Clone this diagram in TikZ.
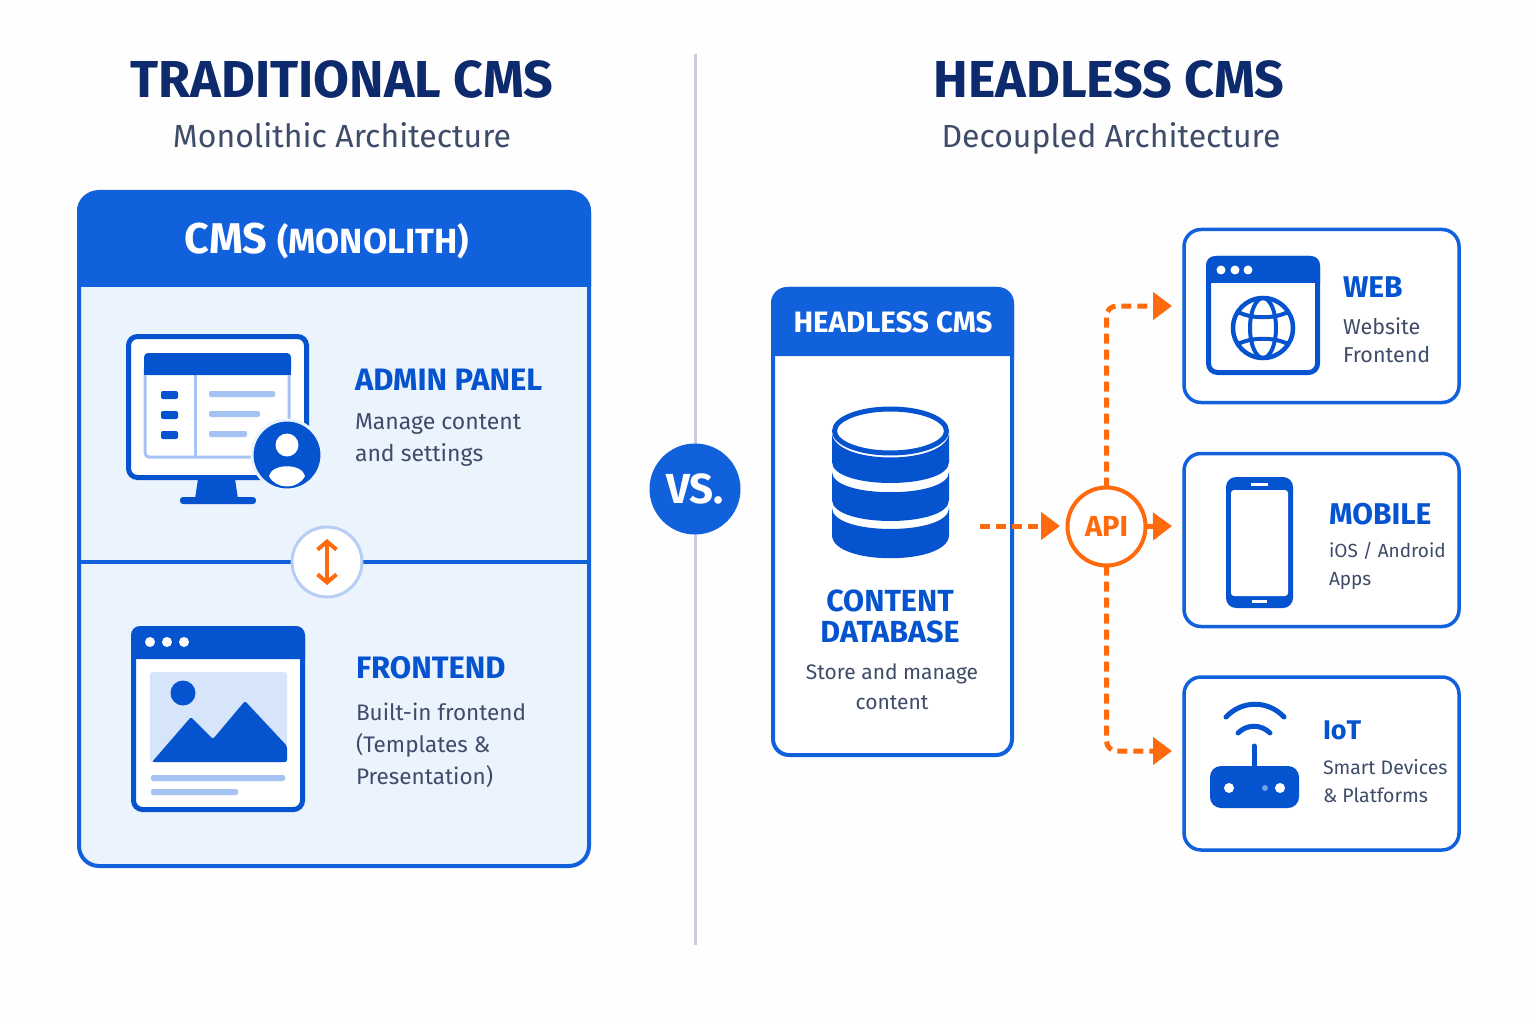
\documentclass[tikz,border=0pt]{standalone}
\usepackage{fontspec}
\setmainfont{Fira Sans}
\usetikzlibrary{arrows.meta}
\definecolor{cardblue}{HTML}{1160DC}
\definecolor{iconblue}{HTML}{0553CF}
\definecolor{navy}{HTML}{0D2A6C}
\definecolor{slate}{HTML}{3E4C69}
\definecolor{apiorange}{HTML}{FF6A0D}
\definecolor{pale}{HTML}{EBF3FD}
\definecolor{rule}{HTML}{C9CEDC}
\definecolor{softline}{HTML}{A4C2F2}
\definecolor{sky}{HTML}{D6E5FA}
\newcommand{\fsz}[2]{\fontsize{#1}{#2}\selectfont}

\begin{document}
\begin{tikzpicture}[x=1pt,y=-1pt]
   \tikzstyle{every node}=[inner sep=0pt, outer sep=0pt]
   \tikzstyle{title}=[anchor=base, text=navy, font=\fsz{52}{56}\bfseries]
   \tikzstyle{subtitle}=[anchor=base, text=slate, font=\fsz{32}{36}]
   \tikzstyle{panel}=[draw=cardblue, line width=4pt, rounded corners=20pt]
   \tikzstyle{device}=[panel, rounded corners=17pt, line width=3.5pt, fill=white, minimum width=275pt, minimum height=173pt]
   \tikzstyle{itemhead}=[anchor=base west, text=iconblue, font=\fsz{30}{32}\bfseries]
   \tikzstyle{itemtext}=[anchor=west, align=left, text=slate]
   \tikzstyle{flow}=[draw=apiorange, line width=5pt, dash pattern=on 10pt off 6pt, -{Triangle[length=19pt,width=27pt]}]

   \useasboundingbox (0,0) rectangle (1536,1024);
   \fill[white!60!pale!10!white] (0,0) rectangle (1536,1024);

   \node[title] (lefttitle) at (342,98) {TRADITIONAL CMS};
   \node[subtitle] (leftsub) at (342,147.5) {Monolithic Architecture};
   \node[title] (righttitle) at (1109,98) {HEADLESS CMS};
   \node[subtitle] (rightsub) at (1111,147.5) {Decoupled Architecture};

   \coordinate (ruletop) at (695,54);
   \coordinate (rulebot) at (695,945);
   \draw[rule, line width=3pt] (ruletop) -- (rulebot);
   \node[circle, fill=cardblue, minimum size=91pt, text=white, font=\fsz{42}{44}\bfseries] (vs) at (695,489) {VS.};

   \node[panel, fill=pale, minimum width=510pt, minimum height=674pt] (mono) at (334,529) {};
   \fill[cardblue] (77,287) [rounded corners=20pt] -- (77,191) -- (591,191) [sharp corners] -- (591,287) -- cycle;
   \node[anchor=base, text=white, font=\bfseries] (monohead) at (327,254) {\fsz{43}{44}CMS \fsz{35}{44}(MONOLITH)};
   \coordinate (splitl) at (mono.west |- 0,562);
   \coordinate (splitr) at (mono.east |- 0,562);
   \draw[cardblue, line width=4pt] (splitl) -- (splitr);

   \draw[iconblue, line width=5pt, fill=white, rounded corners=9pt] (128.5,336.5) rectangle (306.5,477.5);
   \draw[softline, line width=3pt, rounded corners=4pt] (145,365) rectangle (289,457);
   \draw[softline, line width=3pt] (195,375) -- (195,457);
   \fill[iconblue, rounded corners=4pt] (144,353) rectangle (291,375);
   \fill[iconblue] (144,366) rectangle (291,375);
   \fill[iconblue, rounded corners=2pt] (161,391) rectangle (178,399);
   \fill[iconblue, rounded corners=2pt] (161,411) rectangle (178,419);
   \fill[iconblue, rounded corners=2pt] (161,431) rectangle (178,439);
   \fill[softline, rounded corners=2pt] (209,391) rectangle (275,397);
   \fill[softline, rounded corners=2pt] (209,411) rectangle (260,417);
   \fill[softline, rounded corners=2pt] (209,431) rectangle (247,437);
   \fill[iconblue] (198,479) -- (235,479) -- (238,499) -- (195,499) -- cycle;
   \fill[iconblue, rounded corners=3pt] (180,497) rectangle (256,504);
   \draw[pale, line width=3pt, fill=iconblue] (287,455) circle (35);
   \fill[white] (287,445) circle (11.5);
   \fill[white] (269,476) .. controls (272,463) and (302,463) .. (305,476) .. controls (298,490) and (276,490) .. (269,476) -- cycle;

   \node[itemhead, font=\fsz{31}{32}\bfseries] (adminhead) at (355,390) {ADMIN PANEL};
   \node[itemtext, font=\fsz{23}{31.5}] (admintext) at (355,440) {Manage content\\and settings};

   \node[circle, draw=softline!80!white, line width=3pt, fill=white, minimum size=70pt] (swap) at (327,562) {};
   \coordinate (swaptop) at (327,539);
   \coordinate (swapbot) at (327,585);
   \draw[apiorange, line width=4pt, {Straight Barb[length=8pt,width=19pt]}-{Straight Barb[length=8pt,width=19pt]}] (swaptop) -- (swapbot);

   \draw[iconblue, line width=5pt, fill=white, rounded corners=9pt] (133.5,628.5) rectangle (302.5,809.5);
   \fill[iconblue] (131,659) [rounded corners=9pt] -- (131,626) -- (305,626) [sharp corners] -- (305,659) -- cycle;
   \fill[white] (150,642) circle (5);
   \fill[white] (167,642) circle (5);
   \fill[white] (184,642) circle (5);
   \fill[sky, rounded corners=3pt] (150,672) rectangle (287,762);
   \fill[iconblue] (183,693) circle (12.5);
   \fill[iconblue, rounded corners=2pt] (152,762) -- (191,717) -- (213,739) -- (245,701) -- (287,746) -- (287,762) -- cycle;
   \fill[softline, rounded corners=2pt] (151,775) rectangle (285,781);
   \fill[softline, rounded corners=2pt] (151,789) rectangle (238,795);

   \node[itemhead, font=\fsz{31}{32}\bfseries] (fronthead) at (356,678) {FRONTEND};
   \node[itemtext, font=\fsz{22.5}{32}] (fronttext) at (356,745) {Built-in frontend\\(Templates \&\\Presentation)};

   \node[panel, rounded corners=16pt, fill=white, minimum width=239pt, minimum height=466pt] (headless) at (892.5,522) {};
   \fill[cardblue] (771,356) [rounded corners=16pt] -- (771,287) -- (1014,287) [sharp corners] -- (1014,356) -- cycle;
   \node[anchor=base, text=white, font=\fsz{29.5}{32}\bfseries] (headlesshead) at (893,332) {HEADLESS CMS};

   \fill[iconblue] (832,432) .. controls (832,466) and (949,466) .. (949,432) -- (949,462) .. controls (949,490) and (832,490) .. (832,462) -- cycle;
   \fill[iconblue] (832,472) .. controls (832,499) and (949,499) .. (949,472) -- (949,500) .. controls (949,528) and (832,528) .. (832,500) -- cycle;
   \fill[iconblue] (832,508) .. controls (832,536) and (949,536) .. (949,508) -- (949,535) .. controls (949,566) and (832,566) .. (832,535) -- cycle;
   \draw[iconblue, line width=5pt, fill=white] (890.5,431) ellipse [x radius=56, y radius=22];

   \node[anchor=center, align=center, text=iconblue, font=\fsz{30.5}{31.5}\bfseries] (dbhead) at (890,616.5) {CONTENT\\DATABASE};
   \node[anchor=center, align=center, text=slate, font=\fsz{21}{30}] (dbtext) at (892,687) {Store and manage\\content};

   \node[device] (web) at (1321.5,316) {};
   \node[device] (mobile) at (1321.5,540) {};
   \node[device] (iot) at (1321.5,763.5) {};

   \draw[iconblue, line width=5pt, fill=white, rounded corners=9pt] (1208.5,258.5) rectangle (1317.5,372.5);
   \fill[iconblue] (1206,283) [rounded corners=9pt] -- (1206,256) -- (1320,256) [sharp corners] -- (1320,283) -- cycle;
   \fill[white] (1221,270) circle (4.5);
   \fill[white] (1235,270) circle (4.5);
   \fill[white] (1248,270) circle (4.5);
   \draw[iconblue, line width=4.5pt] (1263,328) circle (30);
   \draw[iconblue, line width=4pt] (1263,328) ellipse [x radius=13, y radius=30];
   \draw[iconblue, line width=4pt] (1238,312) .. controls (1252,319) and (1274,319) .. (1288,312);
   \draw[iconblue, line width=4pt] (1238,344) .. controls (1252,337) and (1274,337) .. (1288,344);

   \node[itemhead] (webhead) at (1343,298) {WEB};
   \node[itemtext, font=\fsz{21.5}{28.5}] (webtext) at (1343,340) {Website\\Frontend};

   \fill[iconblue, rounded corners=10pt] (1226,477) rectangle (1293,608);
   \fill[white, rounded corners=3pt] (1231,490) rectangle (1288,596);
   \fill[white] (1250.5,482.5) rectangle (1267.5,485.5);
   \fill[white] (1252,600) rectangle (1267,603);

   \node[itemhead] (mobilehead) at (1329,524) {MOBILE};
   \node[itemtext, font=\fsz{19}{28}] (mobiletext) at (1329,566) {iOS / Android\\Apps};

   \draw[iconblue, line width=5pt, line cap=round] (1226,717) .. controls (1242,700) and (1268,700) .. (1284,717);
   \draw[iconblue, line width=5pt, line cap=round] (1238,733) .. controls (1247,724) and (1261,724) .. (1270,733);
   \draw[iconblue, line width=5pt, line cap=round] (1254,746) -- (1254,768);
   \fill[iconblue, rounded corners=11pt] (1210,766) rectangle (1299,808);
   \fill[white] (1229,788) circle (5);
   \fill[white] (1280,788) circle (5);
   \fill[softline!70!iconblue] (1265,788) circle (3);

   \node[itemhead, font=\fsz{27}{32}\bfseries] (iothead) at (1323,739) {IoT};
   \node[itemtext, font=\fsz{19.5}{28}] (iottext) at (1323,781) {Smart Devices\\\& Platforms};

   \node[circle, draw=apiorange, line width=4pt, fill=white, minimum size=78pt, text=apiorange, font=\fsz{29}{32}\bfseries] (api) at (1106.5,526.5) {API};
   \coordinate (dbout) at (980,526);
   \coordinate (apiin) at (1060,526);
   \coordinate (webin) at (1172,306);
   \coordinate (mobilein) at (1172,526);
   \coordinate (iotin) at (1172,751);

   \draw[flow] (dbout) -- (apiin);
   \draw[flow] (api.east) -- (mobilein);
   \draw[flow, rounded corners=10pt] (api.north) |- (webin);
   \draw[flow, rounded corners=10pt] (api.south) |- (iotin);
\end{tikzpicture}
\end{document}
